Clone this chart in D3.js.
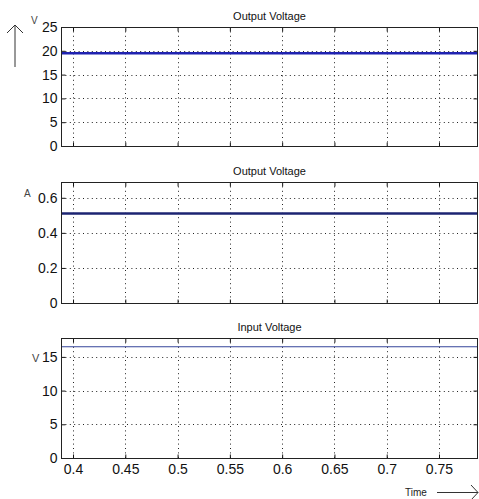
<!DOCTYPE html>
<html>
<head>
<meta charset="utf-8">
<script src="https://cdn.jsdelivr.net/npm/d3@7"></script>
<style>
  html, body { margin: 0; padding: 0; background: #fff; }
  svg { display: block; font-family: "Liberation Sans", Arial, sans-serif; }
</style>
</head>
<body>
<svg id="chart" width="479" height="499"></svg>
<script>
// data (constant levels over the time window)
const time = [0.3885, 0.45, 0.5, 0.55, 0.6, 0.65, 0.7, 0.75, 0.7873];
const outputVoltage = [19.5, 19.5, 19.5, 19.5, 19.5, 19.5, 19.5, 19.5, 19.5];
const outputCurrent = [0.51, 0.51, 0.51, 0.51, 0.51, 0.51, 0.51, 0.51, 0.51];
const inputVoltage = [16.5, 16.5, 16.5, 16.5, 16.5, 16.5, 16.5, 16.5, 16.5];

const xTicks = [0.4, 0.45, 0.5, 0.55, 0.6, 0.65, 0.7, 0.75];
const titles = ["Output Voltage", "Output Voltage", "Input Voltage"];
const units = ["V", "A", "V"];
const yTicks1 = [0, 5, 10, 15, 20, 25];
const yTicks2 = [0, 0.2, 0.4, 0.6];
const yTicks3 = [0, 5, 10, 15];

const svg = d3.select("#chart");
const left = 61, right = 478;
const tickFont = "'Liberation Sans Narrow', 'Liberation Sans', Arial, sans-serif";

const x = d3.scaleLinear().domain([0.3885, 0.7873]).range([left, right]);

const panels = [
    { title: titles[0], unit: units[0], values: outputVoltage, ticks: yTicks1, domain: [0, 25], top: 27, bottom: 146,
      color: "#1f22b0", width: 2.4, showX: false },
    { title: titles[1], unit: units[1], values: outputCurrent, ticks: yTicks2, domain: [0, 0.69], top: 182, bottom: 303,
      color: "#1c2472", width: 2.6, showX: false },
    { title: titles[2], unit: units[2], values: inputVoltage, ticks: yTicks3, domain: [0, 17.8], top: 338, bottom: 458,
      color: "#34449a", width: 1.1, showX: true }
];

const fmt = d => String(+d.toFixed(2));

panels.forEach((p, idx) => {
    const y = d3.scaleLinear().domain(p.domain).range([p.bottom, p.top]);
    const g = svg.append("g");

    // grid
    g.selectAll(".vgrid").data(xTicks).enter().append("line")
        .attr("x1", d => Math.round(x(d)) + 0.5).attr("x2", d => Math.round(x(d)) + 0.5)
        .attr("y1", p.top).attr("y2", p.bottom)
        .attr("stroke", "#222").attr("stroke-width", 1).attr("stroke-dasharray", "1,3.4");
    g.selectAll(".hgrid").data(p.ticks.filter(d => d > 0 && d < p.domain[1] - 1e-9)).enter().append("line")
        .attr("x1", left).attr("x2", right)
        .attr("y1", d => Math.round(y(d)) + 0.5).attr("y2", d => Math.round(y(d)) + 0.5)
        .attr("stroke", "#222").attr("stroke-width", 1).attr("stroke-dasharray", "1,3.4");

    // trace
    const line = d3.line().x((d, i) => x(time[i])).y(d => y(d));
    g.append("path").datum(p.values)
        .attr("d", line)
        .attr("fill", "none")
        .attr("stroke", p.color)
        .attr("stroke-width", p.width);

    // axes with inward ticks
    const axB = g.append("g").attr("transform", `translate(0,${p.bottom + 0.5})`)
        .call(d3.axisBottom(x).tickValues(xTicks).tickSizeInner(-4).tickSizeOuter(0).tickPadding(6)
            .tickFormat(p.showX ? fmt : ""));
    const axT = g.append("g").attr("transform", `translate(0,${p.top + 0.5})`)
        .call(d3.axisTop(x).tickValues(xTicks).tickSizeInner(-4).tickSizeOuter(0).tickFormat(""));
    const axL = g.append("g").attr("transform", `translate(${left + 0.5},0)`)
        .call(d3.axisLeft(y).tickValues(p.ticks).tickSizeInner(-4).tickSizeOuter(0).tickPadding(4).tickFormat(fmt));
    const axR = g.append("g").attr("transform", `translate(${right - 0.5},0)`)
        .call(d3.axisRight(y).tickValues(p.ticks).tickSizeInner(-4).tickSizeOuter(0).tickFormat(""));

    [axB, axT, axL, axR].forEach(a => {
        a.select(".domain").remove();
        a.selectAll(".tick line").attr("stroke", "#111");
        a.selectAll("text").attr("font-size", 14).attr("fill", "#111")
            .attr("font-family", tickFont);
    });
    axB.selectAll("text").attr("dy", "0.71em");

    // box
    g.append("rect")
        .attr("x", left + 0.5).attr("y", p.top + 0.5)
        .attr("width", right - left - 1).attr("height", p.bottom - p.top)
        .attr("fill", "none").attr("stroke", "#222").attr("stroke-width", 1);

    // title
    g.append("text")
        .attr("x", (left + right) / 2).attr("y", p.top - 7)
        .attr("text-anchor", "middle").attr("font-size", 11).attr("fill", "#111")
        .text(p.title);
});

// unit labels
svg.append("text").attr("x", 31).attr("y", 24).attr("font-size", 10).attr("fill", "#444").text(units[0]);
svg.append("text").attr("x", 24).attr("y", 197).attr("font-size", 10).attr("fill", "#444").text(units[1]);
svg.append("text").attr("x", 32).attr("y", 362).attr("font-size", 11).attr("fill", "#444").text(units[2]);

// vertical arrow (Y direction)
svg.append("path")
    .attr("d", "M15,67 L15,25 M7,33 L15,25 L23,33")
    .attr("fill", "none").attr("stroke", "#333").attr("stroke-width", 1);

// horizontal arrow (Time)
svg.append("text").attr("x", 405).attr("y", 496).attr("font-size", 10).attr("fill", "#222").text("Time");
svg.append("path")
    .attr("d", "M437,492.5 L478,492.5 M471,485 L478,492.5 L471,500")
    .attr("fill", "none").attr("stroke", "#333").attr("stroke-width", 1);
</script>
</body>
</html>
